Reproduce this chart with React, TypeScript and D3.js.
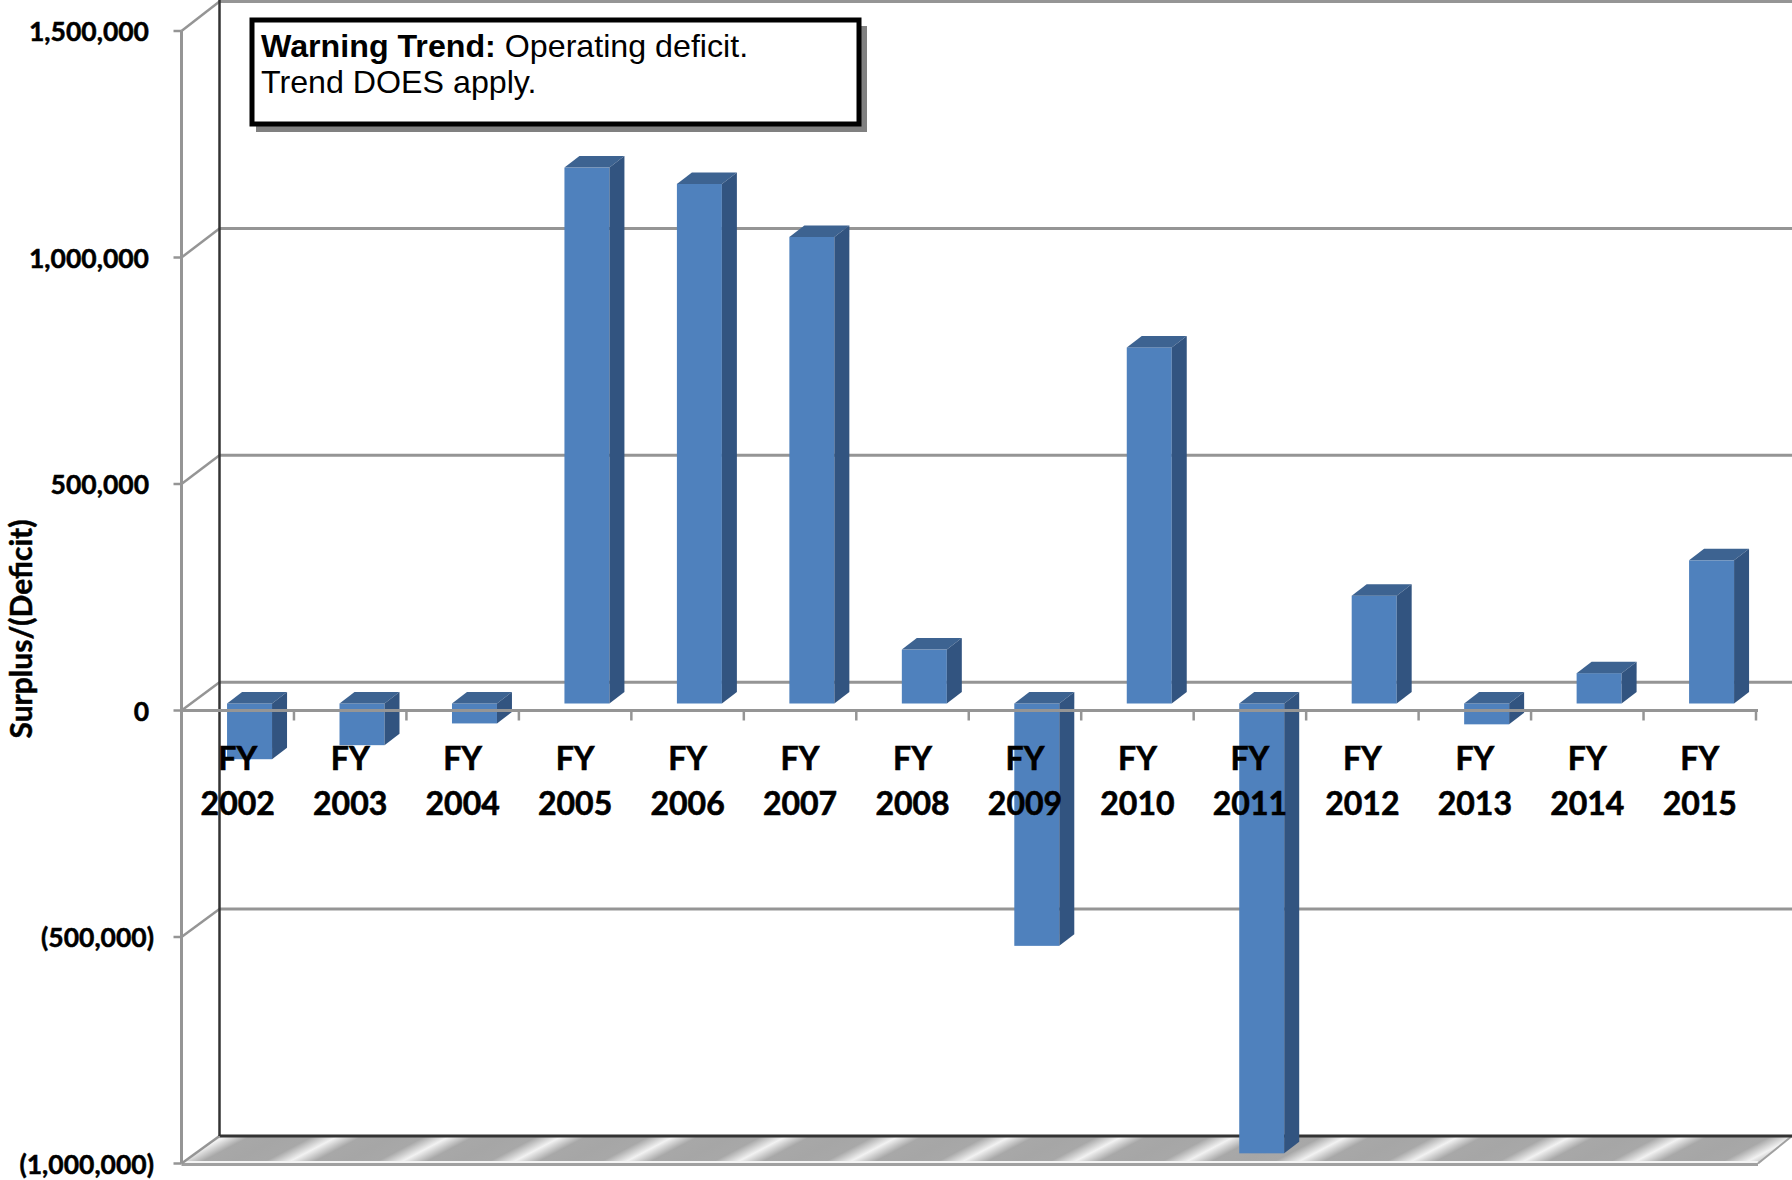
import * as d3 from "d3";

const years = ["2002", "2003", "2004", "2005", "2006", "2007", "2008", "2009", "2010", "2011", "2012", "2013", "2014", "2015"];
const surplus = [-123000, -92000, -44000, 1183000, 1147000, 1030000, 119000, -535000, 786000, -993000, 238000, -46000, 67000, 316000];
const yTicks = [1500000, 1000000, 500000, 0, -500000, -1000000];

const width = 1792;
const height = 1180;
const wallDx = 38;
const depthDx = 15;
const depthDy = -11.5;

const x = d3.scaleBand<string>().domain(years).range([181.5, 1756]);
const y = d3.scaleLinear().domain([-1000000, 1500000]).range([1163.5, 31]);
// back wall is a touch taller than the front edge
const yBack = d3.scaleLinear().domain([-1000000, 1500000]).range([1136, 1.5]);

// numbers in the picture use brackets for negatives
const fmt = (v: number) => (v < 0 ? `(${d3.format(",")(-v)})` : d3.format(",")(v));

const gray = "#959595";
const labelFont = "Lato, sans-serif";

export default function App() {
  const band = x.bandwidth();
  const barW = band * 0.4;
  const baseY = y(0) - 7;
  const floorBack = yBack(-1000000);
  const floorFront = y(-1000000);
  const axisEnd = x.range()[1] + 2;

  const poly = d3.line();

  return (
    <svg
      width={width}
      height={height}
      style={{ position: "fixed", left: 0, top: 0, background: "#fff" }}
    >
      <defs>
        <linearGradient
          id="floorShine"
          gradientUnits="userSpaceOnUse"
          spreadMethod="repeat"
          x1={2442}
          y1={0}
          x2={2466.3}
          y2={46.2}
        >
          <stop offset="0" stopColor="#a6a6a6" />
          <stop offset="0.28" stopColor="#a8a8a8" />
          <stop offset="0.5" stopColor="#f2f2f2" />
          <stop offset="0.72" stopColor="#a8a8a8" />
          <stop offset="1" stopColor="#a6a6a6" />
        </linearGradient>
      </defs>

      {/* floor */}
      <path
        d={poly([
          [x.range()[0], floorFront],
          [x.range()[0] + wallDx, floorBack],
          [width, floorBack],
          [axisEnd, floorFront],
        ])! + "Z"}
        fill="url(#floorShine)"
      />
      <line x1={x.range()[0]} x2={axisEnd} y1={floorFront - 1.5} y2={floorFront - 1.5} stroke="#f4f4f4" strokeWidth={2} />
      <line x1={x.range()[0]} x2={axisEnd} y1={floorFront + 1} y2={floorFront + 1} stroke="#a0a0a0" strokeWidth={3} />
      <line x1={axisEnd} x2={width} y1={floorFront} y2={floorBack} stroke="#a0a0a0" strokeWidth={2} />

      {/* walls and gridlines */}
      {yTicks.map((t) => (
        <g key={t}>
          <line x1={x.range()[0] + wallDx} x2={width} y1={yBack(t)} y2={yBack(t)} stroke={t === -1000000 ? "#333" : gray} strokeWidth={3} />
          <line x1={x.range()[0]} x2={x.range()[0] + wallDx} y1={y(t)} y2={yBack(t)} stroke={gray} strokeWidth={2.5} />
          <line x1={x.range()[0] - 8} x2={x.range()[0]} y1={y(t)} y2={y(t)} stroke={gray} strokeWidth={2.5} />
        </g>
      ))}
      <line x1={x.range()[0]} x2={x.range()[0]} y1={y(1500000)} y2={floorFront} stroke={gray} strokeWidth={3} />
      <line x1={x.range()[0] + wallDx} x2={x.range()[0] + wallDx} y1={0} y2={floorBack} stroke="#333" strokeWidth={2.5} />

      {/* bars */}
      {years.map((yr, i) => {
        const left = x(yr)! + band * 0.405;
        const right = left + barW;
        const v = y(surplus[i]) - 7;
        const top = Math.min(v, baseY);
        const bottom = Math.max(v, baseY);
        return (
          <g key={yr}>
            <rect x={left} y={top} width={barW} height={bottom - top} fill="#4f81bd" />
            <path
              d={poly([
                [left, top],
                [left + depthDx, top + depthDy],
                [right + depthDx, top + depthDy],
                [right, top],
              ])! + "Z"}
              fill="#3d6391"
            />
            <path
              d={poly([
                [right, top],
                [right + depthDx, top + depthDy],
                [right + depthDx, bottom + depthDy],
                [right, bottom],
              ])! + "Z"}
              fill="#325480"
            />
          </g>
        );
      })}

      {/* category axis */}
      <line x1={x.range()[0]} x2={axisEnd} y1={y(0)} y2={y(0)} stroke={gray} strokeWidth={3} />
      {years.map((yr) => (
        <line
          key={yr}
          x1={x(yr)! + band}
          x2={x(yr)! + band}
          y1={y(0)}
          y2={y(0) + 10}
          stroke={gray}
          strokeWidth={2.5}
        />
      ))}
      {years.map((yr) => (
        <text
          key={yr}
          x={x(yr)! + band / 2}
          textAnchor="middle"
          fontFamily={labelFont}
          fontWeight={700}
          fontSize={32}
          fill="#000"
          stroke="#000"
          strokeWidth={0.6}
        >
          <tspan x={x(yr)! + band / 2} y={770}>FY</tspan>
          <tspan x={x(yr)! + band / 2} y={815}>{yr}</tspan>
        </text>
      ))}

      {/* value axis labels */}
      {yTicks.map((t) => (
        <text
          key={t}
          x={t < 0 ? 154 : 149}
          y={y(t) + 1}
          dy="0.35em"
          textAnchor="end"
          fontFamily={labelFont}
          fontWeight={700}
          fontSize={26.5}
          fill="#000"
          stroke="#000"
          strokeWidth={0.5}
        >
          {fmt(t)}
        </text>
      ))}
      <text
        transform="translate(21,629) rotate(-90)"
        textAnchor="middle"
        dy="0.35em"
        fontFamily={labelFont}
        fontWeight={700}
        fontSize={30}
        fill="#000"
        stroke="#000"
        strokeWidth={0.5}
      >
        Surplus/(Deficit)
      </text>

      {/* annotation */}
      <rect x={256} y={26} width={611} height={106} fill="#808080" />
      <rect x={252} y={20} width={607} height={104} fill="#fff" stroke="#000" strokeWidth={5} />
      <text x={261} y={57} fontFamily="'Liberation Sans', Arial, sans-serif" fontSize={32.2} fill="#000">
        <tspan fontWeight={700}>Warning Trend:</tspan> Operating deficit.
      </text>
      <text x={261} y={93} fontFamily="'Liberation Sans', Arial, sans-serif" fontSize={32.2} fill="#000">
        Trend DOES apply.
      </text>
    </svg>
  );
}
